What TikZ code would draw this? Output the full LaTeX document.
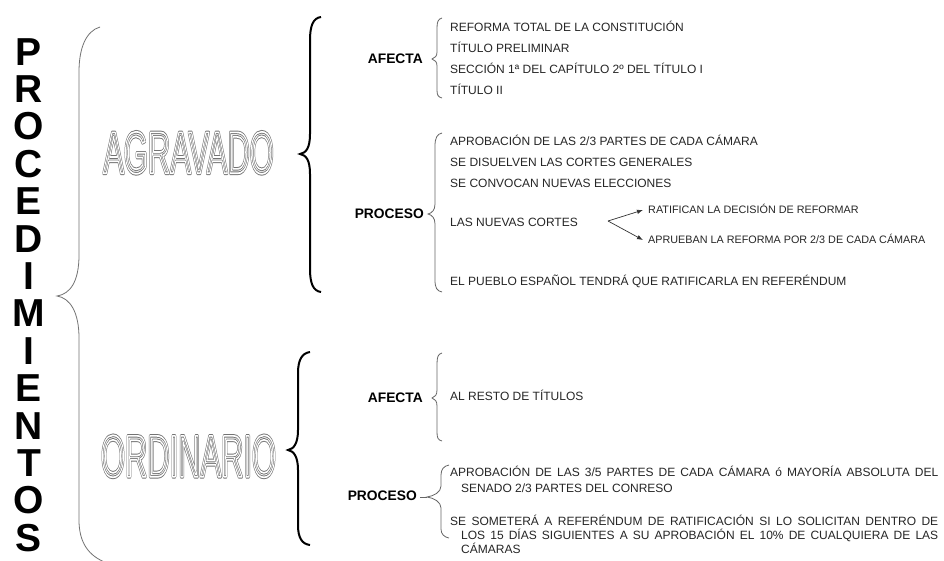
\documentclass[tikz,border=0pt]{standalone}
\usepackage{fontspec}
\setmainfont{Liberation Sans}
\usepackage{graphicx}
\usetikzlibrary{arrows.meta}
\tikzset{
  item/.style={anchor=west, inner sep=0pt, text=black!85, font=\fontsize{12}{14}\selectfont, text height=8.6pt, text depth=0pt},
  smallitem/.style={item, font=\fontsize{10.8}{12}\selectfont, text height=7.7pt},
  head/.style={anchor=east, inner sep=0pt, font=\bfseries\fontsize{13.8}{15}\selectfont, text height=9.9pt, text depth=0pt},
  letter/.style={anchor=base, inner sep=0pt, font=\bfseries\fontsize{39}{39}\selectfont},
  outl/.style={inner sep=0pt, text height=42.6pt, text depth=0pt, anchor=center},
  thinbrace/.style={draw=black!55, line width=0.8pt},
  smallbrace/.style={draw=black!60, line width=0.8pt},
  bigbrace/.style={draw=black, line width=2pt},
  arr/.style={draw=black!80, line width=0.7pt, -{Latex[length=6pt,width=4.5pt]}}
}
\newcommand{\outlinetext}[2]{\scalebox{#1}[1]{\fontsize{59.5}{62}\selectfont\rlap{\special{pdf:literal direct 1 Tr 1 j 3.6 w 0.45 0.45 0.45 RG}#2}\special{pdf:literal direct 1 Tr 1 j 1.7 w 1 1 1 RG}#2\special{pdf:literal direct 0 Tr 0 0 0 RG}}}
\begin{document}
\begin{tikzpicture}[x=1pt,y=-1pt]
\useasboundingbox (0,0) rectangle (944,560);
\fill[white] (0,0) rectangle (944,560);

% vertical title
\foreach \c [count=\i from 0] in {P,R,O,C,E,D,I,M,I,E,N,T,O,S}
  \node[letter] (t\i) at (29,{65+37.4*\i}) {\c};

% thin main brace
\draw[thinbrace] (100,27) .. controls (86,31) and (79,48) .. (79,72) -- (79,255)
  .. controls (79,282) and (70,294) .. (57,296)
  .. controls (70,298) and (79,312) .. (79,338) -- (79,520)
  .. controls (79,542) and (88,556) .. (107,563);

% second level
\node[outl] (agr) at (188.5,152) {\outlinetext{0.519}{AGRAVADO}};
\node[outl] (ord) at (188.5,455.5) {\outlinetext{0.519}{ORDINARIO}};

\draw[bigbrace] (321,17) .. controls (313,18) and (310,26) .. (310,40) -- (310,134)
  .. controls (310,148) and (306,153) .. (300,154)
  .. controls (306,155) and (310,160) .. (310,174) -- (310,269)
  .. controls (310,283) and (313,291) .. (321,292);

\draw[bigbrace] (310,352) .. controls (302,353) and (298,360) .. (298,373) -- (298,430)
  .. controls (298,443) and (294,449) .. (288,450)
  .. controls (294,451) and (298,457) .. (298,470) -- (298,525)
  .. controls (298,538) and (302,544) .. (310,545);

% AGRAVADO - AFECTA
\node[head] (af1) at (423,59) {AFECTA};
\draw[smallbrace] (442,18) .. controls (438,19) and (437,22) .. (437,28) -- (437,52)
  .. controls (437,56) and (435,58) .. (432,59)
  .. controls (435,60) and (437,62) .. (437,66) -- (437,90)
  .. controls (437,95) and (438,97) .. (442,98);
\node[item] (a1) at (450,27) {REFORMA TOTAL DE LA CONSTITUCIÓN};
\node[item] (a2) at (450,48) {TÍTULO PRELIMINAR};
\node[item] (a3) at (450,69) {SECCIÓN 1ª DEL CAPÍTULO 2º DEL TÍTULO I};
\node[item] (a4) at (450,90) {TÍTULO II};

% AGRAVADO - PROCESO
\node[head] (pr1) at (424,214) {PROCESO};
\draw[smallbrace] (442,133) .. controls (437,134) and (435,138) .. (435,146) -- (435,204)
  .. controls (435,210) and (432,213) .. (428,214)
  .. controls (432,215) and (435,218) .. (435,224) -- (435,280)
  .. controls (435,288) and (437,291) .. (442,292);
\node[item] (p1) at (450,141) {APROBACIÓN DE LAS 2/3 PARTES DE CADA CÁMARA};
\node[item] (p2) at (450,162) {SE DISUELVEN LAS CORTES GENERALES};
\node[item] (p3) at (450,183) {SE CONVOCAN NUEVAS ELECCIONES};
\node[item] (p4) at (450,222) {LAS NUEVAS CORTES};
\node[item] (p5) at (450,281) {EL PUEBLO ESPAÑOL TENDRÁ QUE RATIFICARLA EN REFERÉNDUM};
\node[smallitem] (r1) at (648,210) {RATIFICAN LA DECISIÓN DE REFORMAR};
\node[smallitem] (r2) at (648,240) {APRUEBAN LA REFORMA POR 2/3 DE CADA CÁMARA};
\coordinate (split) at (608,221);
\draw[arr] (split) -- ([xshift=-5pt]r1.west);
\draw[arr] (split) -- ([xshift=-5pt]r2.west);

% ORDINARIO - AFECTA
\node[head] (af2) at (423,398) {AFECTA};
\draw[smallbrace] (442,353) .. controls (438,354) and (437,357) .. (437,364) -- (437,390)
  .. controls (437,395) and (435,397) .. (432,398)
  .. controls (435,399) and (437,401) .. (437,406) -- (437,432)
  .. controls (437,438) and (438,440) .. (442,441);
\node[item] (o1) at (450,396) {AL RESTO DE TÍTULOS};

% ORDINARIO - PROCESO
\node[head] (pr2) at (417,496) {PROCESO};
\draw[smallbrace] (449,465) .. controls (444,466) and (441,469) .. (441,475) -- (441,486)
  .. controls (441,492) and (434,496) .. (427,497)
  .. controls (434,498) and (441,502) .. (441,508) -- (441,529)
  .. controls (441,534) and (444,537) .. (449,538);
\draw[smallbrace] (420,497) -- (427,497);
\node[item] (q1) at (450,472) {\makebox[488pt][s]{APROBACIÓN DE LAS 3/5 PARTES DE CADA CÁMARA ó MAYORÍA ABSOLUTA DEL}};
\node[item] (q2) at (461,488) {SENADO 2/3 PARTES DEL CONRESO};
\node[item] (q3) at (450,521) {\makebox[488pt][s]{SE SOMETERÁ A REFERÉNDUM DE RATIFICACIÓN SI LO SOLICITAN DENTRO DE}};
\node[item] (q4) at (461,535) {\makebox[477pt][s]{LOS 15 DÍAS SIGUIENTES A SU APROBACIÓN EL 10\% DE CUALQUIERA DE LAS}};
\node[item] (q5) at (461,549) {CÁMARAS};
\end{tikzpicture}
\end{document}
